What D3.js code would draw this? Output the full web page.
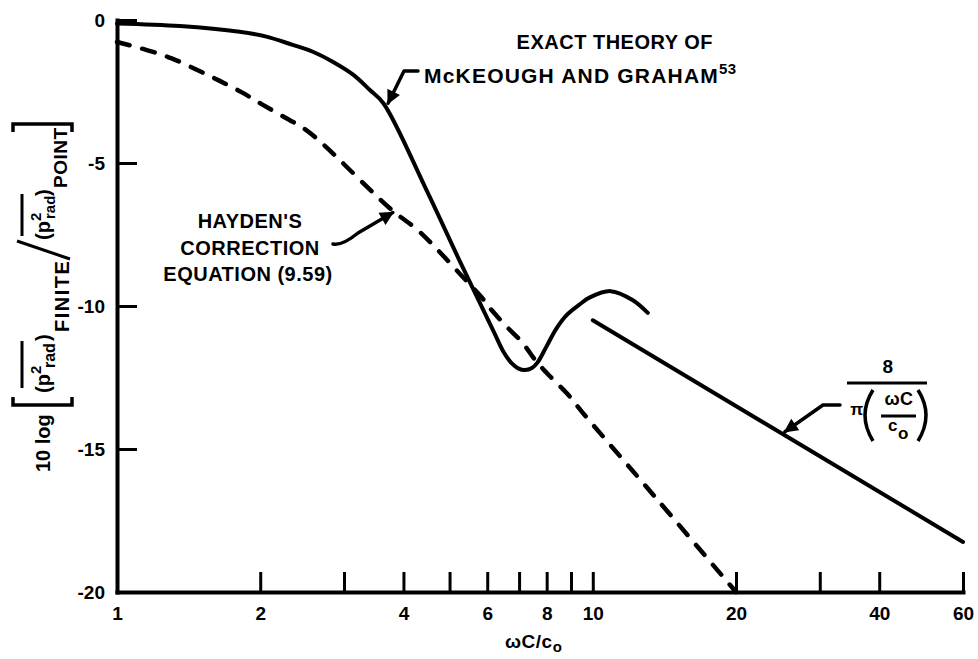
<!DOCTYPE html>
<html><head><meta charset="utf-8">
<script src="https://cdn.jsdelivr.net/npm/d3@7"></script>
<style>
html,body{margin:0;padding:0;background:#fff;}
svg{display:block;font-family:"Liberation Sans",Arial,Helvetica,sans-serif;font-weight:bold;}
</style></head><body>
<svg id="chart" width="978" height="659"></svg>
<script>
// ---- data ----
const xTickValues = [1,2,3,4,5,6,7,8,9,10,20,30,40,60];
const xTickLabels = {1:"1",2:"2",4:"4",6:"6",8:"8",10:"10",20:"20",40:"40",60:"60"};
const yTickValues = [0,-5,-10,-15,-20];
const yTickLabels = {"0":"0","-5":"-5","-10":"-10","-15":"-15","-20":"-20"};

// exact theory of McKeough and Graham
const exactX = [1,1.356,1.81,2.06,2.34,2.58,2.84,3.14,3.40,3.63,4.47,5.26,6.17,6.50,6.75,6.97,7.2,7.45,7.65,7.99,8.39,8.82,9.41,9.86,10.9,12.12,13.05];
const exactY = [-0.12,-0.21,-0.41,-0.58,-0.87,-1.11,-1.46,-1.92,-2.45,-2.91,-5.94,-8.45,-10.84,-11.62,-12.0,-12.18,-12.24,-12.17,-11.98,-11.42,-10.78,-10.31,-9.93,-9.70,-9.48,-9.79,-10.24];
// Hayden's correction equation (9.59)
const haydenX = [1,1.155,1.303,1.475,1.64,1.83,2.013,2.25,2.48,2.71,3.76,4.29,4.74,5.26,5.82,6.14,6.59,7.12,7.57,8.12,8.82,9.49,13.8,20];
const haydenY = [-0.77,-1.05,-1.34,-1.75,-2.12,-2.53,-2.94,-3.40,-3.81,-4.34,-6.61,-7.35,-8.07,-8.88,-9.67,-10.16,-10.72,-11.29,-11.89,-12.45,-13.05,-13.7,-16.85,-20];
// asymptote 8 / (pi * wC/co)
const asymX = [10,60];
const asymY = [-10.5,-18.25];

// ---- chart ----
const svg = d3.select("#chart");
const x = d3.scaleLog().domain([1,60]).range([117,963]);
const y = d3.scaleLinear().domain([-20,0]).range([592,20]);

const FS = 19;

// axes
const xAxis = d3.axisBottom(x).tickValues(xTickValues).tickSizeInner(-20).tickSizeOuter(0)
  .tickPadding(15).tickFormat(d => xTickLabels[d] || "");
const gx = svg.append("g").attr("transform", `translate(0,${y(-20)})`).call(xAxis);
const yAxis = d3.axisLeft(y).tickValues(yTickValues).tickSizeInner(-20).tickSizeOuter(0)
  .tickPadding(12).tickFormat(d => yTickLabels[String(d)]);
const gy = svg.append("g").attr("transform", `translate(${x(1)},0)`).call(yAxis);
[gx, gy].forEach(g => {
  g.attr("font-family", null).attr("font-size", null);
  g.select(".domain").attr("stroke", "#000").attr("stroke-width", 4).attr("stroke-linecap","square");
  g.selectAll(".tick line").attr("stroke", "#000").attr("stroke-width", 3);
  g.selectAll(".tick text").attr("fill", "#000").attr("font-size", FS).attr("font-weight","bold");
});

// curves
const line = d3.line().x(d => x(d[0])).y(d => y(d[1])).curve(d3.curveCatmullRom.alpha(0.5));
svg.append("path").datum(exactX.map((v,i)=>[v,exactY[i]]))
  .attr("d", line).attr("fill","none").attr("stroke","#000").attr("stroke-width",4)
  .attr("stroke-linecap","round").attr("stroke-linejoin","round");
svg.append("path").datum(haydenX.map((v,i)=>[v,haydenY[i]]))
  .attr("d", line).attr("fill","none").attr("stroke","#000").attr("stroke-width",4.5)
  .attr("stroke-dasharray","13,13").attr("stroke-linecap","round");
svg.append("path").datum(asymX.map((v,i)=>[v,asymY[i]]))
  .attr("d", d3.line().x(d => x(d[0])).y(d => y(d[1]))).attr("fill","none")
  .attr("stroke","#000").attr("stroke-width",4).attr("stroke-linecap","round");

// arrow marker
svg.append("defs").append("marker").attr("id","ah").attr("viewBox","0 0 10 10")
  .attr("refX",9).attr("refY",5).attr("markerWidth",4.2).attr("markerHeight",4)
  .attr("markerUnits","strokeWidth").attr("orient","auto")
  .append("path").attr("d","M0,0 L10,5 L0,10 Z").attr("fill","#000");

function arrow(d){
  svg.append("path").attr("d", d).attr("fill","none").attr("stroke","#000")
    .attr("stroke-width",3.5).attr("stroke-linecap","round").attr("stroke-linejoin","round")
    .attr("marker-end","url(#ah)");
}
// McKeough arrow -> exact curve
const tip1 = [x(3.66), y(-3.05)];
arrow(`M418,71 L404,71 L${tip1[0]+3},${tip1[1]-4}`);
// Hayden arrow -> dashed curve
const tip2 = [x(3.80), y(-6.66)];
arrow(`M333,244 Q342,246 358,233 L${tip2[0]},${tip2[1]+2}`);
// asymptote arrow
const tip3 = [x(25.1), y(-14.5)];
arrow(`M840,405 L823,405 L${tip3[0]+2},${tip3[1]-3}`);

// annotation texts
function txt(t, xx, yy, anchor, size){
  return svg.append("text").attr("x",xx).attr("y",yy).attr("text-anchor",anchor||"start")
    .attr("font-size",size||FS+1).attr("letter-spacing",0.5).attr("fill","#000").text(t);
}
txt("EXACT THEORY OF", 713, 49, "end");
const t2 = svg.append("text").attr("x",424).attr("y",83).attr("font-size",21).attr("letter-spacing",1.2);
t2.append("tspan").text("McKEOUGH AND GRAHAM");
t2.append("tspan").attr("font-size",15).attr("letter-spacing",0.5).attr("dy",-9).text("53");

txt("HAYDEN'S", 250, 228, "middle");
txt("CORRECTION", 250, 255, "middle");
txt("EQUATION (9.59)", 248, 281, "middle");

// formula 8 / (pi (wC / co))
txt("8", 888, 373, "middle", 19);
svg.append("line").attr("x1",847).attr("x2",927).attr("y1",383).attr("y2",383).attr("stroke","#000").attr("stroke-width",3);
txt("π", 857, 415, "middle", 17);
svg.append("path").attr("d","M873,390 Q857,415 873,441").attr("fill","none").attr("stroke","#000").attr("stroke-width",3.5);
svg.append("path").attr("d","M918,390 Q934,415 918,441").attr("fill","none").attr("stroke","#000").attr("stroke-width",3.5);
txt("ωC", 899, 405, "middle", 18);
svg.append("line").attr("x1",881).attr("x2",916).attr("y1",416).attr("y2",416).attr("stroke","#000").attr("stroke-width",3);
const tf = svg.append("text").attr("x",888).attr("y",431).attr("font-size",17).attr("letter-spacing",0.5);
tf.append("tspan").text("c");
tf.append("tspan").attr("dy",8).text("o");

// x-axis title
const xt = svg.append("text").attr("x",505).attr("y",648).attr("font-size",FS).attr("letter-spacing",0.5);
xt.append("tspan").text("ωC/c");
xt.append("tspan").attr("dy",4).attr("font-size",15).text("o");

// y-axis title (rotated)
const gl = svg.append("g").attr("transform","translate(50,472) rotate(-90)");
function lt(t, lx, ly, size, ls){
  gl.append("text").attr("x",lx).attr("y",ly).attr("font-size",size).attr("letter-spacing",ls||0).attr("fill","#000").text(t);
}
function lp(d, w){ gl.append("path").attr("d",d).attr("fill","none").attr("stroke","#000").attr("stroke-width",w||3); }
lt("10 log", 0, 0, 20);
lp("M75,-37 L67,-37 L67,22 L75,22", 3.5);
lt("(p", 79, 0, 20);
lt("2", 98, -9, 15);
lt("rad", 104, 5, 16);
lt(")", 131, 0, 20);
lt("FINITE", 140, 19, 20, 1.5);
lp("M84,-28 L131,-28", 3);
lp("M213,20 L231,-33", 3);
lt("(p", 232, 0, 20);
lt("2", 251, -9, 15);
lt("rad", 253, 5, 15);
lt(")", 276, 0, 20);
lt("POINT", 284, 17, 19, 0.5);
lp("M236,-28 L278,-28", 3);
lp("M340,-37 L348,-37 L348,22 L340,22", 3.5);
</script>
</body></html>
